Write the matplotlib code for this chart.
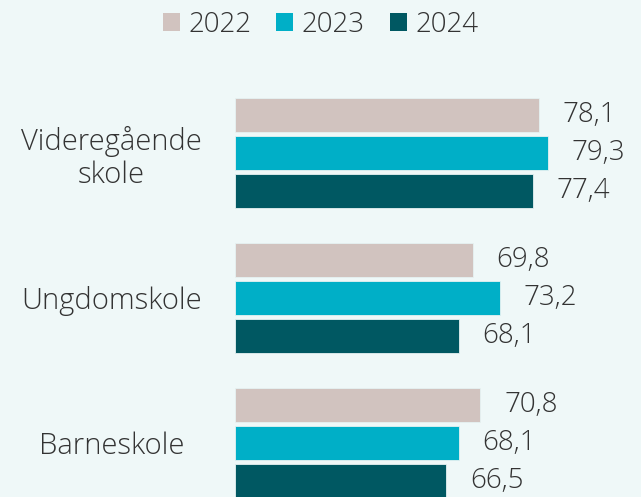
import matplotlib.pyplot as plt
from matplotlib.patches import Patch

BG = "#eff8f8"
INK = "#333333"
COLORS = ["#d1c3bf", "#00afc7", "#005862"]

categories = ["Barneskole", "Ungdomskole", "Videregående\nskole"]
years = ["2022", "2023", "2024"]
v2022 = [70.8, 69.8, 78.1]
v2023 = [68.1, 73.2, 79.3]
v2024 = [66.5, 68.1, 77.4]
series = [v2022, v2023, v2024]

plt.rcParams.update({
    "font.family": ["Open Sans", "DejaVu Sans"],
    "font.weight": "light",
    "text.color": INK,
    "figure.facecolor": BG,
    "axes.facecolor": BG,
    "savefig.facecolor": BG,
})

fig = plt.figure(figsize=(6.41, 4.97), dpi=100)
ax = fig.add_axes([235 / 641, 0, 406 / 641, 1])

base = 40
step = 0.262
height = 0.241
offsets = [step, 0, -step]
for vals, off, color, year in zip(series, offsets, COLORS, years):
    ys = [i + off for i in range(len(categories))]
    widths = [v - base for v in vals]
    ax.barh(ys, widths, left=base, height=height, color=color,
            edgecolor="#e6f2f2", linewidth=0.6, label=year)
    for y, v in zip(ys, vals):
        ax.annotate(f"{v:.1f}".replace(".", ","), (v, y), xytext=(17, 0),
                    textcoords="offset points", va="center", ha="left",
                    fontsize=20, color=INK, fontweight="light")

ax.set_xlim(base, base + 406 / 7.97)
ax.set_ylim(-54 / 145, 2 + 153 / 145)
ax.set_yticks(range(len(categories)))
ax.set_yticklabels(categories, fontsize=21, color=INK, ha="center",
                   multialignment="center", fontweight="light", linespacing=1.15)
ax.tick_params(axis="y", length=0, pad=89)
ax.set_xticks([])
for spine in ax.spines.values():
    spine.set_visible(False)

handles = [Patch(facecolor=c, edgecolor="none") for c in COLORS]
fig.legend(handles, years, loc="center", bbox_to_anchor=(0.5, 1 - 25 / 497), ncol=3,
           frameon=False, fontsize=20, handlelength=0.62, handleheight=0.62,
           handletextpad=0.3, columnspacing=0.9)

fig.savefig("out.png", dpi=100)
